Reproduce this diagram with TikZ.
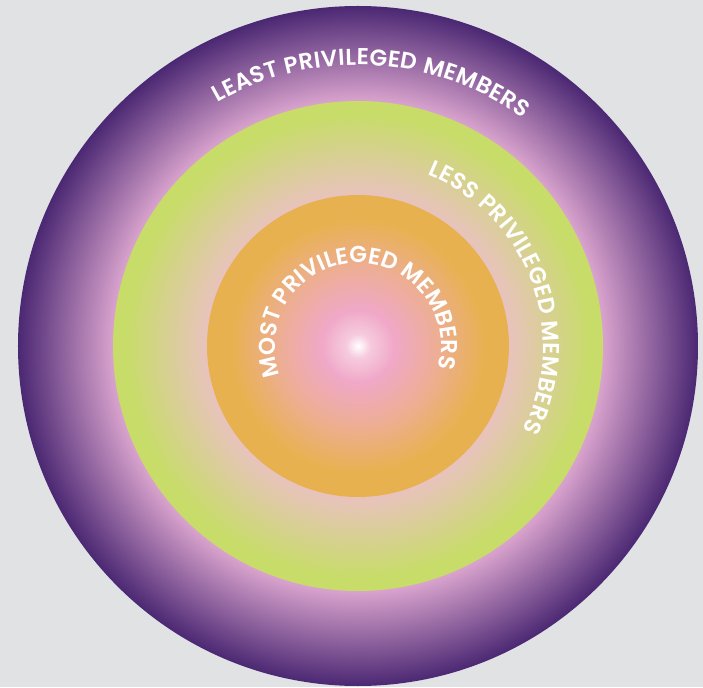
\documentclass[tikz,border=0pt]{standalone}
\usepackage{fontspec}
\newfontfamily\ringfont{Poppins SemiBold}
\usetikzlibrary{decorations.text}
\definecolor{backgray}{HTML}{E1E2E4}
\definecolor{deeppurple}{HTML}{4B2873}
\definecolor{softpink}{HTML}{D9A3CD}
\definecolor{limegreen}{HTML}{C8DC6A}
\definecolor{blush}{HTML}{E8C3BC}
\definecolor{amber}{HTML}{E8B14F}
\definecolor{peach}{HTML}{EDAE95}
\definecolor{rosepink}{HTML}{F0A8C8}
% the circle edge sits at 25bp of each shading
\pgfdeclareradialshading{leastshade}{\pgfpoint{0bp}{0bp}}{color(0bp)=(softpink);
   color(18bp)=(softpink);color(25bp)=(deeppurple);color(50bp)=(deeppurple)}
\pgfdeclareradialshading{lessshade}{\pgfpoint{0bp}{0bp}}{color(0bp)=(blush);
   color(15.5bp)=(blush);color(23.5bp)=(limegreen);color(50bp)=(limegreen)}
\pgfdeclareradialshading{mostshade}{\pgfpoint{0bp}{0bp}}{color(0bp)=(white);
   color(2bp)=(rosepink!60!white);color(6bp)=(rosepink);color(13bp)=(peach);
   color(21bp)=(amber);color(50bp)=(amber)}

\begin{document}
\begin{tikzpicture}[x=1pt,y=1pt,
      ringtext/.style={decorate,decoration={text along path,text align=fit to path,
         text color=white,text={|\ringfont\fontsize{23}{23}\selectfont|#1}}}]
      \fill[backgray](-358,-341)rectangle(345,346);
      \shade[shading=leastshade](0,0)circle(340);
      \shade[shading=lessshade](0,0)circle(245);
      \shade[shading=mostshade](0,0)circle(151);
      \path[ringtext=LEAST PRIVILEGED MEMBERS](120:281)arc(120:54:281);
      \path[ringtext=LESS PRIVILEGED MEMBERS](68:185)arc(68:-27:185);
      \path[ringtext=MOST PRIVILEGED MEMBERS](201:83)arc(201:-13:83);
    \end{tikzpicture}
\end{document}
